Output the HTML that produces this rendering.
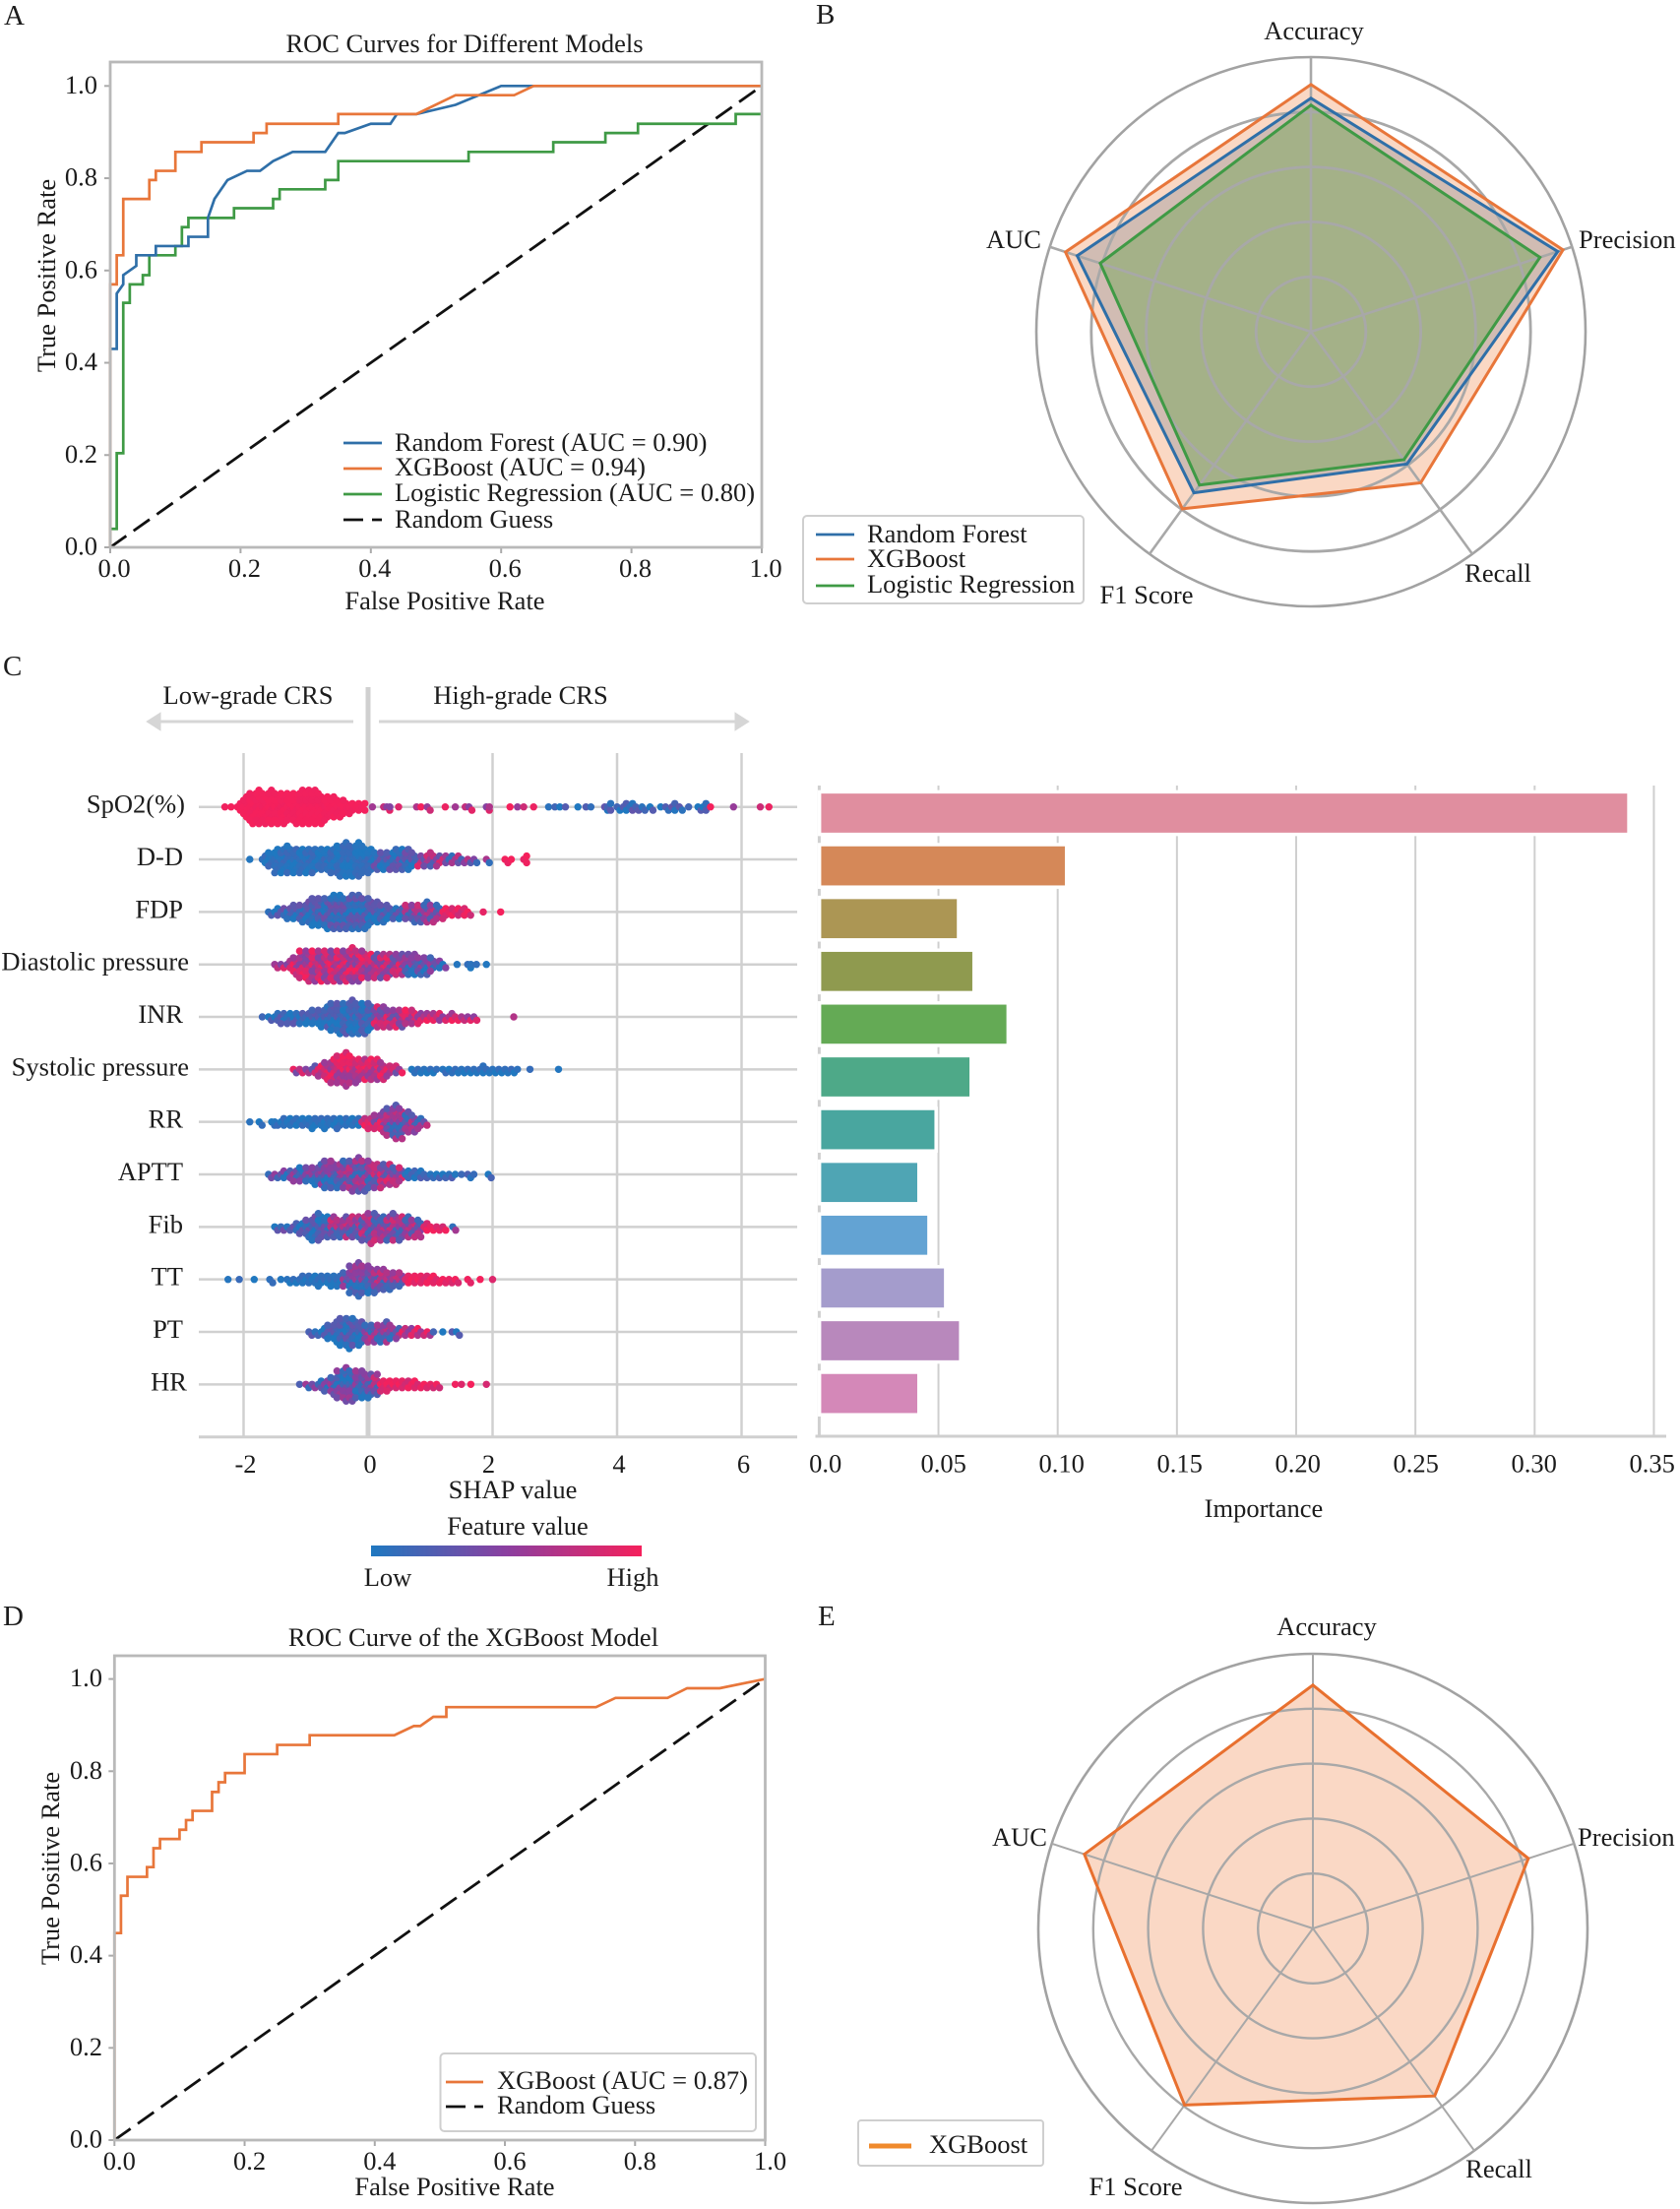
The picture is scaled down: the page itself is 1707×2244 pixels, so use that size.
<!DOCTYPE html>
<html lang="en">
<head>
<meta charset="utf-8">
<title>Model comparison figure</title>
<style>
html,body{margin:0;padding:0;background:#fff;}
svg{display:block;}
text{font-family:"Liberation Serif","DejaVu Serif",serif;font-size:26.5px;fill:#1c1c1c;dominant-baseline:central;}
.letter{font-size:29px;}
</style>
</head>
<body>
<svg id="figure" xmlns="http://www.w3.org/2000/svg" width="1707" height="2244" viewBox="0 0 1707 2244">
<defs>
<linearGradient id="shapGradient" x1="0" x2="1" y1="0" y2="0">
<stop offset="0" stop-color="#1f78c0"/><stop offset="0.5" stop-color="#8b3fa0"/><stop offset="1" stop-color="#f5205c"/>
</linearGradient>
</defs>
<rect width="1707" height="2244" fill="#fff"/>
<text class="letter" x="4" y="16">A</text>
<text class="letter" x="829" y="15">B</text>
<text class="letter" x="3" y="677">C</text>
<text class="letter" x="3" y="1642">D</text>
<text class="letter" x="831" y="1642">E</text>

<g id="panelA">
<text x="472" y="44" text-anchor="middle">ROC Curves for Different Models</text>
<text x="452" y="610" text-anchor="middle">False Positive Rate</text>
<text x="47" y="280" text-anchor="middle" transform="rotate(-90 47 280)">True Positive Rate</text>
</g>
<g id="panelALegend">
<line x1="349" x2="388" y1="450" y2="450" stroke="#2f6fa8" stroke-width="2.8"/>
<text x="401" y="449">Random Forest (AUC = 0.90)</text>
<line x1="349" x2="388" y1="476" y2="476" stroke="#e8763a" stroke-width="2.8"/>
<text x="401" y="474">XGBoost (AUC = 0.94)</text>
<line x1="349" x2="388" y1="502" y2="502" stroke="#3f9a45" stroke-width="2.8"/>
<text x="401" y="500">Logistic Regression (AUC = 0.80)</text>
<line x1="349" x2="388" y1="528" y2="528" stroke="#111" stroke-width="2.8" stroke-dasharray="20 9"/>
<text x="401" y="527">Random Guess</text>
</g>

<g id="panelB"></g>
<g id="panelBLegend">
<rect x="816" y="524" width="285" height="89" rx="4" fill="#fff" fill-opacity="0.85" stroke="#cfcfcf" stroke-width="2"/>
<line x1="829" x2="868" y1="543" y2="543" stroke="#2f6fa8" stroke-width="2.8"/>
<text x="881" y="542">Random Forest</text>
<line x1="829" x2="868" y1="568" y2="568" stroke="#e8763a" stroke-width="2.8"/>
<text x="881" y="567">XGBoost</text>
<line x1="829" x2="868" y1="595" y2="595" stroke="#3f9a45" stroke-width="2.8"/>
<text x="881" y="593">Logistic Regression</text>
</g>

<g id="panelC">
<text x="252" y="706" text-anchor="middle">Low-grade CRS</text>
<text x="529" y="706" text-anchor="middle">High-grade CRS</text>
<path d="M359 733H155M162 726L151 733L162 740Z" stroke="#d6d6d6" stroke-width="3" fill="#d6d6d6"/>
<path d="M385 733H755M748 726L759 733L748 740Z" stroke="#d6d6d6" stroke-width="3" fill="#d6d6d6"/>
<text x="521" y="1513" text-anchor="middle">SHAP value</text>
<text x="526" y="1550" text-anchor="middle">Feature value</text>
<rect x="377" y="1570" width="275" height="11" fill="url(#shapGradient)"/>
<text x="394" y="1602" text-anchor="middle">Low</text>
<text x="643" y="1602" text-anchor="middle">High</text>
</g>

<g id="panelCBars">
<text x="1284" y="1532" text-anchor="middle">Importance</text>
</g>

<g id="panelD">
<text x="481" y="1663" text-anchor="middle">ROC Curve of the XGBoost Model</text>
<text x="462" y="2221" text-anchor="middle">False Positive Rate</text>
<text x="51" y="1898" text-anchor="middle" transform="rotate(-90 51 1898)">True Positive Rate</text>
</g>
<g id="panelDLegend">
<rect x="447.5" y="2086" width="320.5" height="79" rx="4" fill="#fff" stroke="#cfcfcf" stroke-width="2"/>
<line x1="453" x2="491" y1="2115" y2="2115" stroke="#e8763a" stroke-width="2.8"/>
<text x="505" y="2113">XGBoost (AUC = 0.87)</text>
<line x1="453" x2="491" y1="2140" y2="2140" stroke="#111" stroke-width="2.8" stroke-dasharray="20 9"/>
<text x="505" y="2138">Random Guess</text>
</g>

<g id="panelE"></g>
<g id="panelELegend">
<rect x="872" y="2154" width="188" height="46" rx="3" fill="#fff" stroke="#cfcfcf" stroke-width="2"/>
<line x1="883" x2="926" y1="2180" y2="2180" stroke="#f08a2c" stroke-width="5"/>
<text x="944" y="2178">XGBoost</text>
</g>
</svg>

<script>
// ---------- Panel A data ----------
const rocTicks = [0, 0.2, 0.4, 0.6, 0.8, 1];
const rocTickLabels = ['0.0', '0.2', '0.4', '0.6', '0.8', '1.0'];
const rfFpr = [0,0,.01,.01,.02,.02,.04,.04,.07,.07,.12,.12,.15,.15,.16,.18,.21,.23,.25,.28,.33,.35,.36,.4,.43,.44,.47,.53,.6,1];
const rfTpr = [0,.43,.43,.55,.57,.59,.61,.633,.633,.653,.653,.673,.673,.714,.755,.796,.816,.816,.837,.857,.857,.898,.898,.918,.918,.939,.939,.959,1,1];
const xgbFpr = [0,0,.01,.01,.02,.02,.06,.06,.07,.07,.1,.1,.14,.14,.22,.22,.24,.24,.35,.35,.47,.53,.62,.65,1];
const xgbTpr = [0,.57,.57,.633,.633,.755,.755,.796,.796,.816,.816,.857,.857,.878,.878,.898,.898,.918,.918,.939,.939,.98,.98,1,1];
const lrFpr = [0,0,.01,.01,.02,.02,.03,.03,.05,.05,.06,.06,.1,.1,.11,.11,.12,.12,.19,.19,.25,.25,.26,.26,.33,.33,.35,.35,.55,.55,.68,.68,.76,.76,.81,.81,.96,.96,1];
const lrTpr = [0,.04,.04,.204,.204,.53,.53,.57,.57,.59,.59,.633,.633,.653,.653,.694,.694,.714,.714,.735,.735,.755,.755,.776,.776,.796,.796,.837,.837,.857,.857,.878,.878,.898,.898,.918,.918,.939,.939];
const guessFpr = [0, 1];
const guessTpr = [0, 1];

// ---------- Panel D data ----------
const xgbSoloFpr = [0,0,.01,.01,.02,.02,.05,.05,.06,.06,.07,.07,.1,.1,.11,.11,.12,.12,.15,.15,.16,.16,.17,.17,.2,.2,.25,.25,.3,.3,.43,.46,.47,.49,.51,.51,.74,.77,.85,.88,.93,1];
const xgbSoloTpr = [0,.449,.449,.53,.53,.571,.571,.592,.592,.633,.633,.653,.653,.673,.673,.694,.694,.714,.714,.755,.755,.776,.776,.796,.796,.837,.837,.857,.857,.878,.878,.898,.898,.918,.918,.939,.939,.959,.959,.98,.98,1];

// ---------- Radar data ----------
const radarAxes = ['Accuracy', 'Precision', 'Recall', 'F1 Score', 'AUC'];
const radarRings = [0.2, 0.4, 0.6, 0.8, 1];
const radarRf = [0.85, 0.945, 0.595, 0.725, 0.895];
const radarXgb = [0.90, 0.965, 0.68, 0.797, 0.94];
const radarLr = [0.825, 0.877, 0.576, 0.69, 0.807];
const radarXgbSolo = [0.886, 0.825, 0.754, 0.795, 0.875];

// ---------- Panel C data: SHAP bin, dots in bin, feature-value zones ----------
const featureNames = ['SpO2(%)','D-D','FDP','Diastolic pressure','INR','Systolic pressure','RR','APTT','Fib','TT','PT','HR'];
const shapTicks = [-2, 0, 2, 4, 6];
const shapTickLabels = ['-2', '0', '2', '4', '6'];

const spo2Bins = [-2.3,-2.2,-2.1,-2,-1.9,-1.8,-1.7,-1.6,-1.5,-1.4,-1.3,-1.2,-1.1,-1,-.9,-.8,-.7,-.6,-.5,-.4,-.3,-.2,-.1,.07,.25,.3,.35,.49,.78,.85,.95,1.24,1.4,1.56,1.62,1.9,1.95,2.28,2.4,2.5,2.66,2.9,3,3.08,3.17,3.37,3.5,3.58,3.8,3.85,4,4.1,4.2,4.3,4.4,4.53,4.7,4.78,4.88,5,5.15,5.3,5.38,5.5,5.87,6.3,6.44];
const spo2Counts = [1,1,3,7,10,11,10,11,10,10,9,10,11,11,11,10,8,7,6,5,4,3,3,1,1,2,1,1,1,1,2,1,1,1,2,2,1,1,1,1,1,1,1,1,1,1,1,1,2,3,2,3,3,2,2,2,1,2,3,2,1,2,3,1,1,1,1];
const spo2ZoneEnd = [0, 2.7, 5.45, 7];
const spo2ZoneMean = [.99, .74, .14, .74];

const ddBins = [-1.9,-1.7,-1.6,-1.5,-1.4,-1.3,-1.2,-1.1,-1,-.9,-.8,-.7,-.6,-.5,-.4,-.3,-.2,-.1,0,.1,.2,.3,.4,.5,.6,.7,.8,.9,1,1.1,1.2,1.3,1.4,1.5,1.6,1.7,1.9,2.2,2.3,2.5];
const ddCounts = [1,3,5,8,8,9,8,8,8,8,7,7,8,10,11,10,11,9,8,6,6,6,7,7,7,5,4,4,5,4,3,3,3,2,2,2,2,2,1,3];
const ddZoneEnd = [0, .7, 1.2, 1.95, 3];
const ddZoneMean = [.06, .18, .55, .42, .96];

const fdpBins = [-1.6,-1.5,-1.4,-1.3,-1.2,-1.1,-1,-.9,-.8,-.7,-.6,-.5,-.4,-.3,-.2,-.1,0,.1,.2,.3,.4,.5,.6,.7,.8,.9,1,1.1,1.2,1.3,1.4,1.5,1.6,1.85,2.13];
const fdpCounts = [2,3,3,4,5,6,7,9,9,10,11,11,10,11,11,10,9,7,6,5,4,4,5,6,6,7,6,5,4,3,3,3,2,1,1];
const fdpZoneEnd = [.5, 1.1, 3];
const fdpZoneMean = [.17, .45, .9];

const diaBins = [-1.5,-1.4,-1.3,-1.2,-1.1,-1,-.9,-.8,-.7,-.6,-.5,-.4,-.3,-.2,-.1,0,.1,.2,.3,.4,.5,.6,.7,.8,.9,1,1.1,1.2,1.43,1.6,1.65,1.74,1.9];
const diaCounts = [2,2,3,6,9,10,10,10,10,10,10,10,11,10,9,8,8,8,8,7,7,7,7,6,6,5,3,2,1,2,1,1,1];
const diaZoneEnd = [0, .5, 1.25, 3];
const diaZoneMean = [.72, .62, .3, .04];

const inrBins = [-1.7,-1.6,-1.5,-1.4,-1.3,-1.2,-1.1,-1,-.9,-.8,-.7,-.6,-.5,-.4,-.3,-.2,-.1,0,.1,.2,.3,.4,.5,.6,.7,.8,.9,1,1.1,1.2,1.3,1.4,1.5,1.6,1.7,2.34];
const inrCounts = [1,2,3,4,4,4,4,4,5,6,7,9,10,10,11,10,10,9,7,7,6,6,6,5,5,4,3,3,3,2,3,2,2,2,2,1];
const inrZoneEnd = [0, .5, 3];
const inrZoneMean = [.13, .62, .76];

const sysBins = [-1.2,-1.1,-1,-.9,-.8,-.7,-.6,-.5,-.4,-.3,-.2,-.1,0,.1,.2,.3,.4,.5,.7,.8,.9,1,1.1,1.2,1.3,1.4,1.5,1.6,1.7,1.8,1.9,2,2.1,2.2,2.3,2.4,2.6,3.06];
const sysCounts = [2,2,2,3,4,6,8,9,11,9,8,7,7,7,6,4,3,2,2,2,2,2,1,2,2,2,2,2,2,3,2,2,2,2,2,1,1,1];
const sysZoneEnd = [-.85, .3, .6, 4];
const sysZoneMean = [.62, .78, .66, .05];

const rrBins = [-1.9,-1.75,-1.55,-1.5,-1.4,-1.3,-1.2,-1.1,-1,-.9,-.8,-.7,-.6,-.5,-.4,-.3,-.2,-.1,0,.1,.2,.3,.4,.5,.6,.7,.8,.9];
const rrCounts = [1,2,2,2,3,3,3,3,3,4,3,4,3,4,3,3,3,3,4,5,7,9,11,10,7,6,4,2];
const rrZoneEnd = [-.2, .05, .2, 1.5];
const rrZoneMean = [.05, .85, .68, .42];

const apttBins = [-1.6,-1.5,-1.4,-1.3,-1.2,-1.1,-1,-.9,-.8,-.7,-.6,-.5,-.4,-.3,-.2,-.1,0,.1,.2,.3,.4,.5,.6,.7,.8,.9,1,1.1,1.2,1.3,1.4,1.5,1.6,1.7,1.93];
const apttCounts = [2,2,3,3,4,5,5,6,7,9,9,8,9,10,11,10,9,8,8,7,6,5,3,3,3,2,2,2,2,2,1,1,2,1,2];
const apttZoneEnd = [-.6, 0, .55, 3];
const apttZoneMean = [.3, .42, .56, .1];

const fibBins = [-1.5,-1.4,-1.3,-1.2,-1.1,-1,-.9,-.8,-.7,-.6,-.5,-.4,-.3,-.2,-.1,0,.1,.2,.3,.4,.5,.6,.7,.8,.9,1,1.1,1.2,1.36];
const fibCounts = [2,2,2,3,4,6,8,9,7,7,6,7,7,7,8,10,9,8,8,9,8,7,6,6,3,2,2,2,2];
const fibZoneEnd = [-.7, .85, 1.25, 3];
const fibZoneMean = [.18, .48, .92, .42];

const ttBins = [-2.25,-2.07,-1.83,-1.58,-1.4,-1.3,-1.2,-1.1,-1,-.9,-.8,-.7,-.6,-.5,-.4,-.3,-.2,-.1,0,.1,.2,.3,.4,.5,.6,.7,.8,.9,1,1.1,1.2,1.3,1.4,1.6,1.8,2];
const ttCounts = [1,1,1,2,1,2,2,3,3,3,4,3,4,4,5,9,11,9,9,8,7,6,5,5,3,3,3,3,3,2,2,2,2,2,1,1];
const ttZoneEnd = [-.5, 0, .5, 3];
const ttZoneMean = [.05, .32, .46, .94];

const ptBins = [-.95,-.85,-.75,-.65,-.55,-.45,-.35,-.25,-.15,-.05,.05,.15,.25,.35,.45,.55,.65,.75,.85,.95,1.05,1.2,1.35,1.42];
const ptCounts = [2,2,3,5,7,9,10,9,8,6,6,6,7,5,4,3,3,3,2,2,1,1,1,2];
const ptZoneEnd = [-.1, .45, 1, 3];
const ptZoneMean = [.15, .4, .75, .15];

const hrBins = [-1.1,-1,-.9,-.8,-.7,-.6,-.5,-.4,-.3,-.2,-.1,0,.1,.2,.3,.4,.5,.6,.7,.8,.9,1,1.1,1.4,1.5,1.65,1.9];
const hrCounts = [1,2,2,3,4,6,9,11,10,9,9,8,7,4,4,3,3,3,3,2,2,2,2,1,1,1,1];
const hrZoneEnd = [0, .1, 3];
const hrZoneMean = [.3, .48, .92];

const swarmBins = [spo2Bins, ddBins, fdpBins, diaBins, inrBins, sysBins, rrBins, apttBins, fibBins, ttBins, ptBins, hrBins];
const swarmCounts = [spo2Counts, ddCounts, fdpCounts, diaCounts, inrCounts, sysCounts, rrCounts, apttCounts, fibCounts, ttCounts, ptCounts, hrCounts];
const swarmZoneEnd = [spo2ZoneEnd, ddZoneEnd, fdpZoneEnd, diaZoneEnd, inrZoneEnd, sysZoneEnd, rrZoneEnd, apttZoneEnd, fibZoneEnd, ttZoneEnd, ptZoneEnd, hrZoneEnd];
const swarmZoneMean = [spo2ZoneMean, ddZoneMean, fdpZoneMean, diaZoneMean, inrZoneMean, sysZoneMean, rrZoneMean, apttZoneMean, fibZoneMean, ttZoneMean, ptZoneMean, hrZoneMean];

// ---------- Importance bars data ----------
const importanceValues = [.3388, .103, .0577, .0642, .0785, .063, .0483, .0411, .0453, .0523, .0586, .0411];
const importanceColors = ['#e08e9f','#d58858','#ac9654','#8f9a4f','#64aa55','#4ea988','#49a69f','#4fa5b4','#63a3d3','#a49ccc','#b888bc','#d488b8'];
const importanceTicks = [0, .05, .1, .15, .2, .25, .3, .35];
const importanceTickLabels = ['0.0','0.05','0.10','0.15','0.20','0.25','0.30','0.35'];

// ---------- Helpers ----------
const SVG_NS = 'http://www.w3.org/2000/svg';
function make(tag, attrs, name, parent) {
  const el = document.createElementNS(SVG_NS, tag);
  for (const k in attrs) el.setAttribute(k, attrs[k]);
  
  
  parent.appendChild(el);
  return el;
}
function addText(str, x, y, anchor, name, parent) {
  const el = make('text', {x: x, y: y, 'text-anchor': anchor}, name, parent);
  el.textContent = str;
  return el;
}
function linePath(xs, ys, sx, sy) {
  return xs.map((v, i) => (i ? 'L' : 'M') + sx(v).toFixed(2) + ' ' + sy(ys[i]).toFixed(2)).join('');
}

// ---------- ROC panels ----------
function drawRoc(parent, box, labelDx, tickRight, series) {
  const sx = v => box.x0 + v * (box.x1 - box.x0);
  const sy = v => box.y0 - v * (box.y0 - box.yOne);
  rocTicks.forEach((t, i) => {
    make('line', {x1: sx(t), x2: sx(t), y1: box.y0, y2: box.y0 + 6, stroke: '#aaa', 'stroke-width': 2}, 'x-tick', parent);
    make('line', {x1: box.x0 - 6, x2: box.x0, y1: sy(t), y2: sy(t), stroke: '#aaa', 'stroke-width': 2}, 'y-tick', parent);
    addText(rocTickLabels[i], sx(t) + labelDx, box.y0 + 21, 'middle', 'x-tick-label', parent);
    addText(rocTickLabels[i], tickRight, sy(t) - 1.5, 'end', 'y-tick-label', parent);
  });
  series.forEach(s => {
    const attrs = {d: linePath(s.x, s.y, sx, sy), fill: 'none', stroke: s.color, 'stroke-width': s.width || 2.7, 'stroke-linejoin': 'miter'};
    if (s.dash) attrs['stroke-dasharray'] = s.dash;
    make('path', attrs, s.name, parent);
  });
  make('rect', {x: box.x0, y: box.top, width: box.x1 - box.x0, height: box.y0 - box.top, fill: 'none', stroke: '#b9b9b9', 'stroke-width': 2.8}, 'plot-frame', parent);
}
drawRoc(document.getElementById('panelA'), {x0: 112, x1: 774, top: 63, y0: 556, yOne: 87.3}, 4, 99, [
  {x: guessFpr, y: guessTpr, color: '#111', dash: '20 9', width: 2.8, name: 'random-guess-line'},
  {x: lrFpr, y: lrTpr, color: '#3f9a45', name: 'logistic-regression-roc-line'},
  {x: rfFpr, y: rfTpr, color: '#2f6fa8', name: 'random-forest-roc-line'},
  {x: xgbFpr, y: xgbTpr, color: '#e8763a', name: 'xgboost-roc-line'}
]);
drawRoc(document.getElementById('panelD'), {x0: 116.3, x1: 777.5, top: 1682, y0: 2174, yOne: 1705.6}, 5, 104, [
  {x: guessFpr, y: guessTpr, color: '#111', dash: '20 9', width: 2.8, name: 'random-guess-line'},
  {x: xgbSoloFpr, y: xgbSoloTpr, color: '#e8763a', name: 'xgboost-roc-line'}
]);

// ---------- Radar panels ----------
function radarXY(c, i, v) {
  const a = i * 2 * Math.PI / radarAxes.length;
  return [c.x + c.r * v * Math.sin(a), c.y - c.r * v * Math.cos(a)];
}
function radarGrid(parent, c, ringWidth, spokeWidth) {
  radarRings.forEach(v => {
    make('circle', {cx: c.x, cy: c.y, r: c.r * v, fill: 'none', stroke: v === 1 ? '#a2a2a2' : '#a8a8a8', 'stroke-width': v === 1 ? 2.6 : ringWidth}, 'radar-ring', parent);
  });
  radarAxes.forEach((_, i) => {
    const p = radarXY(c, i, 1);
    make('line', {x1: c.x, y1: c.y, x2: p[0], y2: p[1], stroke: '#a8a8a8', 'stroke-width': spokeWidth}, 'radar-spoke', parent);
  });
}
function radarFill(parent, c, values, color, alpha, name) {
  const pts = values.map((v, i) => radarXY(c, i, v).map(n => n.toFixed(1)).join(',')).join(' ');
  make('polygon', {points: pts, fill: color, 'fill-opacity': alpha, stroke: 'none'}, name + '-fill', parent);
}
function radarLine(parent, c, values, color, width, name) {
  const pts = values.map((v, i) => radarXY(c, i, v).map(n => n.toFixed(1)).join(',')).join(' ');
  make('polygon', {points: pts, fill: 'none', stroke: color, 'stroke-width': width}, name + '-line', parent);
}
const panelB = document.getElementById('panelB');
const radarB = {x: 1332, y: 337, r: 279};
radarFill(panelB, radarB, radarRf, '#2f6fa8', .28, 'random-forest');
radarFill(panelB, radarB, radarXgb, '#ee7f3c', .3, 'xgboost');
radarFill(panelB, radarB, radarLr, '#4f9e3a', .35, 'logistic-regression');
radarGrid(panelB, radarB, 2.8, 2.6);
radarLine(panelB, radarB, radarXgb, '#e8763a', 3, 'xgboost');
radarLine(panelB, radarB, radarRf, '#2f6fa8', 3, 'random-forest');
radarLine(panelB, radarB, radarLr, '#3f9a45', 3, 'logistic-regression');
addText(radarAxes[0], 1335, 31, 'middle', 'axis-label-accuracy', panelB);
addText(radarAxes[1], 1604, 243, 'start', 'axis-label-precision', panelB);
addText(radarAxes[2], 1522, 582, 'middle', 'axis-label-recall', panelB);
addText(radarAxes[3], 1165, 604, 'middle', 'axis-label-f1-score', panelB);
addText(radarAxes[4], 1030, 243, 'middle', 'axis-label-auc', panelB);

const panelE = document.getElementById('panelE');
const radarE = {x: 1334, y: 1959, r: 279};
radarFill(panelE, radarE, radarXgbSolo, '#f08a50', .33, 'xgboost');
radarGrid(panelE, radarE, 2.4, 2);
radarLine(panelE, radarE, radarXgbSolo, '#e8702f', 3, 'xgboost');
addText(radarAxes[0], 1348, 1652, 'middle', 'axis-label-accuracy', panelE);
addText(radarAxes[1], 1603, 1866, 'start', 'axis-label-precision', panelE);
addText(radarAxes[2], 1523, 2203, 'middle', 'axis-label-recall', panelE);
addText(radarAxes[3], 1154, 2221, 'middle', 'axis-label-f1-score', panelE);
addText(radarAxes[4], 1036, 1866, 'middle', 'axis-label-auc', panelE);

// ---------- Beeswarm ----------
const panelC = document.getElementById('panelC');
const shapX = v => 374 + v * 63.25;
const rowY = i => 819.7 + i * 53.33;
const mixPattern = [-1, .55, -.3, 1, -.7, .25, .8, -.5, .1, -.9, .65];
function hexMix(a, b, t) {
  return '#' + a.map((v, i) => Math.round(v + (b[i] - v) * t).toString(16).padStart(2, '0')).join('');
}
function featureColor(t) {
  const low = [31, 120, 192], mid = [139, 63, 160], high = [245, 32, 92];
  t = Math.max(0, Math.min(1, t));
  return t < .5 ? hexMix(low, mid, t * 2) : hexMix(mid, high, (t - .5) * 2);
}
function labelRight(name) {
  if (name.length > 8) return 192;
  if (name === 'HR') return 190;
  if (name === 'SpO2(%)') return 188;
  return 186;
}
shapTicks.forEach((t, i) => {
  make('line', {x1: shapX(t), x2: shapX(t), y1: t === 0 ? 698 : 765, y2: 1460, stroke: '#d0d0d0', 'stroke-width': t === 0 ? 5 : 2.5}, 'shap-gridline', panelC);
  addText(shapTickLabels[i], shapX(t) + (t === 2 ? -4 : 2), 1487, 'middle', 'shap-tick-label', panelC);
});
make('line', {x1: 202, x2: 810, y1: 1459.7, y2: 1459.7, stroke: '#d0d0d0', 'stroke-width': 3}, 'shap-x-axis', panelC);
featureNames.forEach((name, row) => {
  const y = rowY(row);
  make('line', {x1: 202, x2: 810, y1: y, y2: y, stroke: '#d0d0d0', 'stroke-width': 2.5}, 'feature-row-line', panelC);
  addText(name, labelRight(name), y - 3, 'end', 'feature-label', panelC);
});
let mixIndex = 0;
featureNames.forEach((name, row) => {
  const bins = swarmBins[row], counts = swarmCounts[row];
  const ends = swarmZoneEnd[row], means = swarmZoneMean[row];
  const group = make('g', {}, 'swarm-' + name.toLowerCase().replace(/[^a-z0-9]+/g, '-').replace(/-$/, ''), panelC);
  bins.forEach((shap, b) => {
    let z = ends.findIndex(e => shap <= e);
    if (z < 0) z = means.length - 1;
    const m = means[z];
    for (let k = 0; k < (counts[b] || 0); k++) {
      const level = k === 0 ? 0 : (k % 2 ? (k + 1) / 2 : -k / 2);
      const t = m + mixPattern[mixIndex++ % mixPattern.length] * 4 * m * (1 - m) * .35;
      const stagger = level % 2 ? 3 : 0;
      const dot = make('circle', {cx: (shapX(shap) + stagger).toFixed(1), cy: (rowY(row) + level * 3.4).toFixed(1), r: 3.7, fill: featureColor(t)}, 'swarm-dot', group);
      dot.setAttribute('data-shap', shap);
    }
  });
});

// ---------- Importance bars ----------
const panelBars = document.getElementById('panelCBars');
const impX = v => 832.4 + v * 2423;
const barY = i => 826 + i * 53.6;
const impLabelX = v => 838.7 + v * 2400;
importanceTicks.forEach((t, i) => {
  if (t > 0) make('line', {x1: impX(t), x2: impX(t), y1: 798, y2: 1459, stroke: '#cfcfcf', 'stroke-width': 2}, 'importance-gridline', panelBars);
  addText(importanceTickLabels[i], impLabelX(t), 1486.5, 'middle', 'importance-tick-label', panelBars);
});
make('line', {x1: 832.4, x2: 832.4, y1: 798, y2: 1460, stroke: '#cfcfcf', 'stroke-width': 3}, 'importance-y-axis', panelBars);
make('line', {x1: 828.5, x2: 1693, y1: 1459, y2: 1459, stroke: '#cfcfcf', 'stroke-width': 3}, 'importance-x-axis', panelBars);
importanceValues.forEach((v, i) => {
  make('rect', {x: impX(0) + 2, y: barY(i) - 19.85, width: impX(v) - impX(0) - 2, height: 39.7, fill: importanceColors[i], stroke: '#fff', 'stroke-width': 7, 'paint-order': 'stroke'}, 'importance-bar', panelBars);
});
</script>
</body>
</html>
